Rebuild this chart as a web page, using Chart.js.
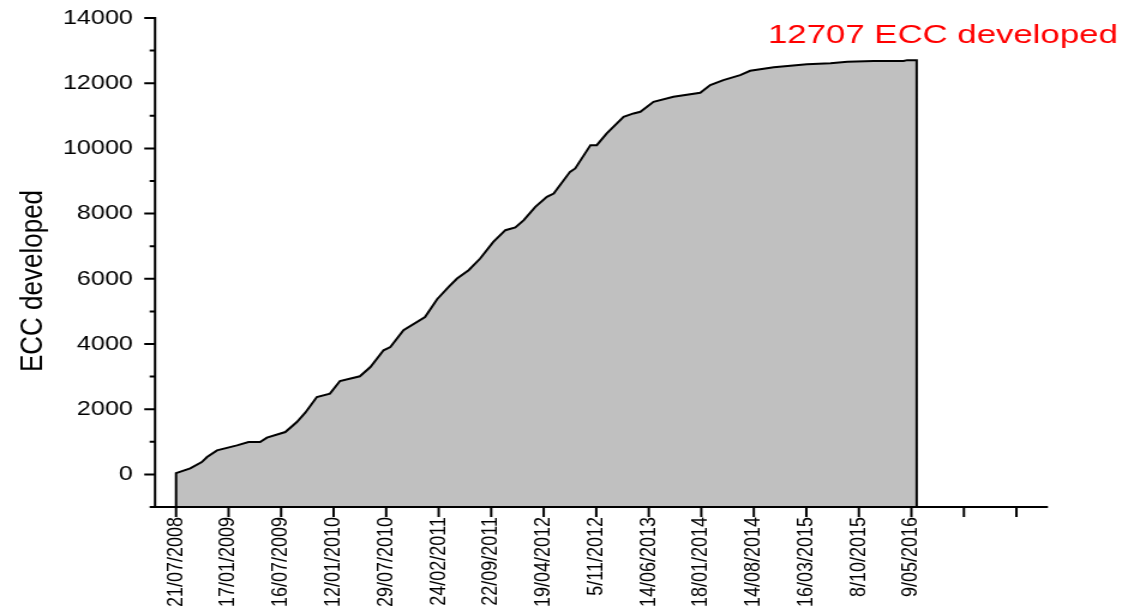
<!DOCTYPE html>
<html>
<head>
<meta charset="utf-8">
<title>ECC developed</title>
<script src="https://cdn.jsdelivr.net/npm/chart.js@4.4.1/dist/chart.umd.min.js"></script>
<style>
    html, body { margin: 0; padding: 0; background: #fff; overflow: hidden; }
    #eccChart { display: block; }
</style>
</head>
<body>
<!-- the original figure is a bit wider than it was drawn, so the canvas is stretched -->
<canvas id="eccChart" width="945" height="610" style="width:1134px;height:610px"></canvas>
<script>
// ==============================
// Data
// ==============================

const tickLabels = [
    "21/07/2008", "17/01/2009", "16/07/2009", "12/01/2010", "29/07/2010",
    "24/02/2011", "22/09/2011", "19/04/2012", "5/11/2012", "14/06/2013",
    "18/01/2014", "14/08/2014", "16/03/2015", "8/10/2015", "9/05/2016",
    "", ""
];
const tickPositions = [0, 1, 2, 3, 4, 5, 6, 7, 8, 9, 10, 11, 12, 13, 14, 15, 16];

// position along the date axis (in tick steps) and cumulative ECC count
const datePositions = [
    0.00, 0.27, 0.49, 0.59, 0.78, 1.16, 1.38, 1.60, 1.73, 2.08,
    2.30, 2.46, 2.68, 2.93, 3.12, 3.50, 3.70, 3.95, 4.08, 4.33,
    4.74, 4.97, 5.19, 5.35, 5.57, 5.79, 6.04, 6.27, 6.46, 6.62,
    6.84, 7.06, 7.19, 7.50, 7.60, 7.89, 8.01, 8.20, 8.52, 8.71,
    8.84, 9.09, 9.47, 9.98, 10.17, 10.42, 10.74, 10.93, 11.38, 12.01,
    12.46, 12.78, 13.28, 13.85, 13.92, 14.10
];
const eccDeveloped = [
    40, 184, 378, 531, 737, 890, 992, 992, 1127, 1299,
    1606, 1894, 2373, 2478, 2864, 3009, 3294, 3807, 3908, 4421,
    4829, 5373, 5750, 6008, 6263, 6622, 7132, 7491, 7574, 7798,
    8206, 8513, 8617, 9281, 9385, 10100, 10100, 10459, 10969, 11073,
    11123, 11429, 11583, 11706, 11942, 12096, 12249, 12381, 12486, 12578,
    12609, 12658, 12679, 12679, 12707, 12707
];

const yMajorTicks = [0, 2000, 4000, 6000, 8000, 10000, 12000, 14000];
const yMinorTicks = [-1000, 1000, 3000, 5000, 7000, 9000, 11000, 13000];
const yMin = -1000;
const yMax = 14000;

const totalLabel = "12707 ECC developed";
const yTitle = "ECC developed";

const FONT = "'Liberation Sans', Arial, sans-serif";

// area closed down to the bottom of the axis at both ends
const areaPoints = [{ x: datePositions[0], y: yMin }]
    .concat(datePositions.map((p, i) => ({ x: p, y: eccDeveloped[i] })))
    .concat([{ x: datePositions[datePositions.length - 1], y: yMin }]);

// ==============================
// Axes, ticks and labels
// ==============================

const axesPlugin = {
    id: "originAxes",
    afterDatasetsDraw(chart) {
        const ctx = chart.ctx;
        const xs = chart.scales.x;
        const ys = chart.scales.y;
        const area = chart.chartArea;

        ctx.save();
        ctx.strokeStyle = "#000";
        ctx.lineWidth = 2;
        ctx.beginPath();

        ctx.moveTo(area.left, ys.getPixelForValue(yMax) - 1);
        ctx.lineTo(area.left, area.bottom);
        ctx.moveTo(area.left, area.bottom);
        ctx.lineTo(area.right, area.bottom);

        yMajorTicks.forEach(v => {
            const p = ys.getPixelForValue(v);
            ctx.moveTo(area.left - 9, p);
            ctx.lineTo(area.left, p);
        });
        yMinorTicks.forEach(v => {
            const p = ys.getPixelForValue(v);
            ctx.moveTo(area.left - 4.5, p);
            ctx.lineTo(area.left, p);
        });
        tickPositions.forEach(v => {
            const p = xs.getPixelForValue(v);
            ctx.moveTo(p, area.bottom);
            ctx.lineTo(p, area.bottom + 10);
        });
        ctx.stroke();

        // y axis title
        ctx.fillStyle = "#000";
        ctx.font = "26px " + FONT;
        ctx.textAlign = "center";
        ctx.textBaseline = "middle";
        ctx.translate(27.5, 281);
        ctx.rotate(-Math.PI / 2);
        ctx.fillText(yTitle, 0, 0);
        ctx.restore();

        // total label, top right
        ctx.save();
        ctx.fillStyle = "#ff0000";
        ctx.font = "26px " + FONT;
        ctx.textAlign = "left";
        ctx.textBaseline = "alphabetic";
        const w = ctx.measureText(totalLabel).width;
        ctx.translate(640, 43);
        ctx.scale(291.5 / w, 1);
        ctx.fillText(totalLabel, 0, 0);
        ctx.restore();
    }
};

function noScalePadding(s) {
    s.paddingTop = 0;
    s.paddingBottom = 0;
    s.paddingLeft = 0;
    s.paddingRight = 0;
}

// ==============================
// Chart
// ==============================

new Chart(document.getElementById("eccChart"), {
    type: "line",
    data: {
        datasets: [{
            data: areaPoints,
            borderColor: "#000",
            borderWidth: 2,
            backgroundColor: "#c0c0c0",
            fill: "start",
            tension: 0,
            pointRadius: 0
        }]
    },
    options: {
        responsive: false,
        animation: false,
        devicePixelRatio: 1,
        layout: {
            padding: { top: 18, right: 71.7, left: 0, bottom: 0 }
        },
        plugins: {
            legend: { display: false },
            tooltip: { enabled: false }
        },
        scales: {
            x: {
                type: "linear",
                min: -0.4,
                max: 16.6,
                afterBuildTicks: s => { s.ticks = tickPositions.map(v => ({ value: v })); },
                afterFit: s => { s.height = 103; noScalePadding(s); },
                grid: { display: false, drawTicks: false },
                border: { display: false },
                ticks: {
                    autoSkip: false,
                    minRotation: 90,
                    maxRotation: 90,
                    padding: 10,
                    color: "#000",
                    font: { family: FONT, size: 18 },
                    callback: value => tickLabels[tickPositions.indexOf(value)]
                }
            },
            y: {
                type: "linear",
                min: yMin,
                max: yMax,
                afterBuildTicks: s => { s.ticks = yMajorTicks.map(v => ({ value: v })); },
                afterFit: s => { s.width = 129.2; noScalePadding(s); },
                grid: { display: false, drawTicks: false },
                border: { display: false },
                ticks: {
                    padding: 18.4,
                    color: "#000",
                    font: { family: FONT, size: 21 },
                    callback: value => String(value)
                }
            }
        }
    },
    plugins: [axesPlugin]
});
</script>
</body>
</html>
